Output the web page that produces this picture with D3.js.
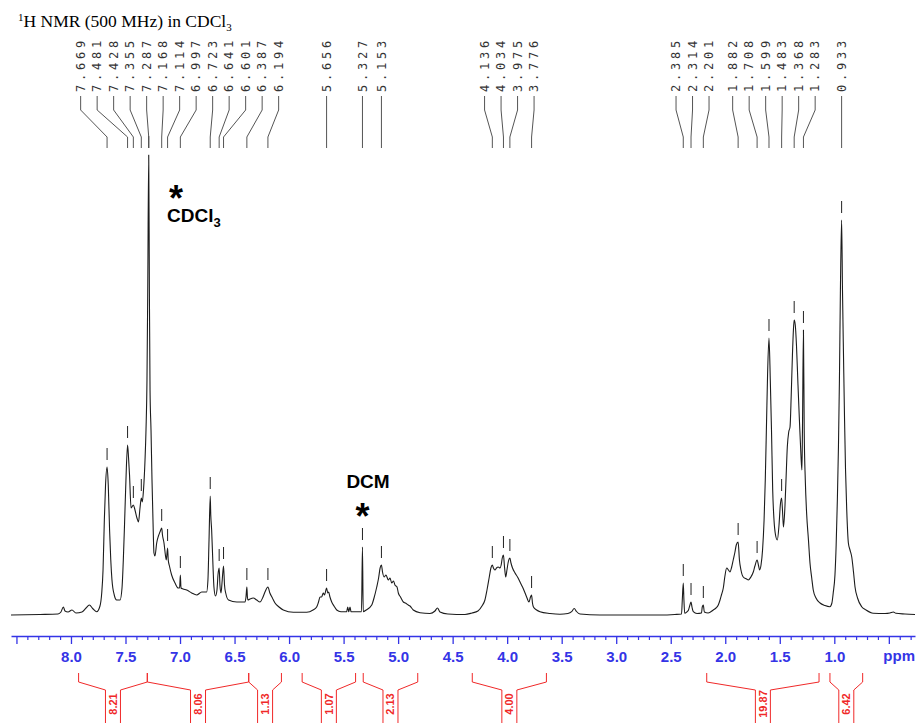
<!DOCTYPE html>
<html>
<head>
<meta charset="utf-8">
<script src="https://cdn.jsdelivr.net/npm/d3@7"></script>
<style>
  body { margin: 0; background: #fff; }
  svg { display: block; }
</style>
</head>
<body>
<div id="chart"></div>
<script>
// 1H NMR spectrum (500 MHz, CDCl3): trace, picked peaks and integrals

// Spectrum trace: [chemical shift (ppm), intensity (a.u.)]
const spectrum = [
  [8.550, 0], [8.284, 0.5], [8.119, 1], [8.092, 3], [8.070, 8], [8.055, 4], [8.027, 3],
  [7.991, 5], [7.954, 2], [7.899, 3], [7.862, 7], [7.832, 10], [7.797, 6], [7.764, 3.3],
  [7.734, 9], [7.718, 22], [7.706, 45], [7.694, 95], [7.683, 130], [7.669, 148],
  [7.658, 130], [7.646, 85], [7.635, 55], [7.624, 35], [7.603, 20], [7.581, 15], [7.550, 15],
  [7.532, 27], [7.520, 55], [7.509, 90], [7.498, 128], [7.481, 170], [7.472, 157],
  [7.463, 140], [7.449, 107], [7.428, 110], [7.413, 105], [7.395, 97], [7.381, 93],
  [7.367, 107], [7.355, 117], [7.346, 113], [7.335, 125], [7.321, 155], [7.312, 185],
  [7.303, 235], [7.296, 325], [7.287, 460], [7.281, 325], [7.275, 225], [7.266, 185],
  [7.257, 135], [7.248, 95], [7.239, 62], [7.230, 59], [7.214, 72], [7.198, 79],
  [7.184, 83], [7.168, 87], [7.161, 80], [7.147, 72], [7.133, 59], [7.126, 55],
  [7.114, 67], [7.108, 55], [7.097, 49], [7.077, 40], [7.046, 32], [7.016, 27],
  [7.004, 27], [6.997, 40], [6.991, 27], [6.972, 26], [6.939, 25], [6.893, 22],
  [6.847, 20], [6.801, 23], [6.756, 23], [6.744, 35], [6.734, 75], [6.723, 119],
  [6.718, 100], [6.710, 85], [6.698, 50], [6.689, 28], [6.675, 19], [6.661, 25],
  [6.652, 40], [6.641, 47], [6.634, 30], [6.624, 22], [6.613, 35], [6.601, 49],
  [6.592, 30], [6.581, 22], [6.555, 15], [6.480, 13], [6.404, 13], [6.395, 18],
  [6.387, 28], [6.382, 18], [6.377, 15], [6.359, 16], [6.328, 17], [6.297, 15],
  [6.267, 13], [6.239, 18], [6.221, 23], [6.194, 28], [6.176, 22], [6.153, 17],
  [6.129, 12], [6.092, 8], [6.053, 5], [5.961, 2.7], [5.838, 2.7], [5.780, 5],
  [5.747, 8], [5.730, 13], [5.716, 18], [5.702, 18], [5.686, 22], [5.675, 20],
  [5.656, 27], [5.645, 22], [5.637, 23], [5.625, 18], [5.609, 13], [5.588, 9],
  [5.563, 5], [5.524, 3.3], [5.472, 3.3], [5.462, 8], [5.453, 3.3], [5.441, 8],
  [5.432, 3.3], [5.336, 3.3], [5.327, 68], [5.320, 3.3], [5.293, 5], [5.242, 10],
  [5.221, 17], [5.196, 28], [5.179, 37], [5.165, 47], [5.153, 50], [5.143, 43],
  [5.129, 38], [5.111, 40], [5.090, 35], [5.074, 37], [5.059, 32], [5.042, 34],
  [5.029, 30], [5.010, 28], [4.998, 22], [4.978, 18], [4.952, 13], [4.932, 12],
  [4.907, 10], [4.891, 9], [4.861, 5], [4.799, 2.3], [4.708, 1.5], [4.662, 4],
  [4.639, 7], [4.616, 3], [4.543, 1], [4.387, 0.5], [4.323, 2], [4.268, 4],
  [4.231, 9], [4.204, 15], [4.185, 25], [4.164, 38], [4.149, 47], [4.136, 50],
  [4.126, 47], [4.112, 45], [4.098, 47], [4.082, 48], [4.066, 47], [4.055, 50],
  [4.045, 57], [4.034, 60], [4.025, 49], [4.013, 38], [4.002, 45], [3.990, 53],
  [3.975, 57], [3.965, 52], [3.951, 47], [3.928, 42], [3.905, 38], [3.882, 33],
  [3.859, 28], [3.836, 22], [3.818, 17], [3.800, 13], [3.786, 18], [3.776, 20],
  [3.768, 12], [3.759, 8], [3.730, 5], [3.699, 3.3], [3.607, 1.5], [3.516, 0.7],
  [3.443, 1.5], [3.409, 3.3], [3.385, 6.5], [3.364, 3.5], [3.332, 1], [3.149, 0],
  [2.874, 0], [2.599, 0], [2.462, 0.5], [2.401, 1], [2.394, 15], [2.385, 32],
  [2.379, 15], [2.372, 1.7], [2.353, 3], [2.337, 5], [2.324, 10], [2.314, 13],
  [2.305, 8], [2.293, 3.3], [2.259, 1.5], [2.218, 2], [2.211, 8], [2.201, 10],
  [2.192, 3], [2.157, 2], [2.110, 5], [2.085, 7], [2.064, 10], [2.048, 15],
  [2.035, 20], [2.018, 27], [2.003, 39], [1.987, 47], [1.971, 45], [1.957, 43],
  [1.941, 48], [1.927, 55], [1.911, 63], [1.899, 70], [1.882, 73], [1.870, 55],
  [1.856, 45], [1.835, 38], [1.804, 36], [1.789, 35], [1.765, 38], [1.743, 43],
  [1.728, 49], [1.708, 55], [1.694, 49], [1.685, 45], [1.672, 50], [1.658, 65],
  [1.644, 95], [1.633, 135], [1.621, 195], [1.612, 240], [1.599, 277], [1.587, 235],
  [1.576, 185], [1.565, 125], [1.553, 95], [1.539, 80], [1.523, 75], [1.507, 90],
  [1.495, 110], [1.483, 117], [1.473, 100], [1.466, 88], [1.452, 110], [1.443, 135],
  [1.431, 168], [1.418, 183], [1.406, 188], [1.395, 220], [1.384, 260], [1.375, 285],
  [1.368, 295], [1.358, 290], [1.347, 270], [1.333, 230], [1.320, 195], [1.306, 160],
  [1.297, 145], [1.292, 185], [1.283, 285], [1.276, 185], [1.266, 135], [1.254, 102],
  [1.237, 75], [1.223, 52], [1.207, 37], [1.193, 25], [1.168, 17], [1.131, 12],
  [1.086, 9.5], [1.040, 8.3], [1.022, 12], [1.010, 22], [0.994, 40], [0.983, 70],
  [0.972, 115], [0.962, 168], [0.953, 235], [0.944, 325], [0.933, 395], [0.925, 325],
  [0.915, 255], [0.906, 195], [0.897, 145], [0.886, 105], [0.871, 72], [0.856, 65],
  [0.840, 58], [0.824, 43], [0.810, 28], [0.787, 17], [0.749, 8.3], [0.710, 5],
  [0.643, 1.7], [0.535, 1.5], [0.490, 2], [0.459, 3], [0.435, 1.7], [0.352, 1],
  [0.260, 0.5]
];

// Picked peaks (ppm)
const peakShifts = [
  7.669, 7.481, 7.428, 7.355, 7.287, 7.168, 7.114, 6.997, 6.723, 6.641, 6.601, 6.387, 6.194,
  5.656, 5.327, 5.153,
  4.136, 4.034, 3.975, 3.776,
  2.385, 2.314, 2.201, 1.882, 1.708, 1.599, 1.483, 1.368, 1.283, 0.933
];

// Integral regions (ppm) and values
const integralFrom = [7.93, 7.30, 6.37, 5.88, 5.32, 4.32, 2.17, 1.04];
const integralTo   = [7.30, 6.37, 6.07, 5.39, 4.82, 3.64, 1.14, 0.74];
const integralValues = ["8.21", "8.06", "1.13", "1.07", "2.13", "4.00", "19.87", "6.42"];

// Axis ticks
const majorTicks = [8.5, 8.0, 7.5, 7.0, 6.5, 6.0, 5.5, 5.0, 4.5, 4.0, 3.5, 3.0, 2.5, 2.0, 1.5, 1.0, 0.5];
const majorTickLabels = ["", "8.0", "7.5", "7.0", "6.5", "6.0", "5.5", "5.0", "4.5", "4.0", "3.5", "3.0", "2.5", "2.0", "1.5", "1.0", ""];

const W = 918, H = 723;
const svg = d3.select("#chart").append("svg")
  .attr("width", W).attr("height", H)
  .attr("viewBox", `0 0 ${W} ${H}`);

const x = d3.scaleLinear().domain([8.55, 0.26]).range([11, 915]);
const y = d3.scaleLinear().domain([0, 460]).range([615, 155]);

const SANS = "'Liberation Sans', Arial, Helvetica, sans-serif";
const BLUE = "#3434e6";
const RED = "#f02828";

// Title
const title = svg.append("text")
  .attr("x", 18).attr("y", 27)
  .attr("font-family", "'Liberation Serif', 'Times New Roman', serif")
  .attr("font-size", 17.5).attr("fill", "#000");
title.append("tspan").attr("font-size", 11).attr("dy", -6).text("1");
title.append("tspan").attr("dy", 6).text("H NMR (500 MHz) in CDCl");
title.append("tspan").attr("font-size", 11).attr("dy", 4).text("3");

// Spectrum trace
const line = d3.line()
  .x(d => x(d[0]))
  .y(d => y(d[1]))
  .curve(d3.curveMonotoneX);

svg.append("path")
  .datum(spectrum)
  .attr("d", line)
  .attr("fill", "none")
  .attr("stroke", "#1c1c1c")
  .attr("stroke-width", 1.1)
  .attr("stroke-linejoin", "round");

// Peak tick marks above each picked peak
const peakHeight = p => d3.max(spectrum.filter(d => Math.abs(d[0] - p) < 0.004), d => d[1]);
svg.append("g").selectAll("line")
  .data(peakShifts)
  .join("line")
  .attr("x1", d => x(d)).attr("x2", d => x(d))
  .attr("y1", d => y(peakHeight(d)) - 19)
  .attr("y2", d => y(peakHeight(d)) - 7)
  .attr("stroke", "#222").attr("stroke-width", 1);

// Label layout: spread labels to a minimum spacing, clusters centred on their peaks
function layoutLabels(xs, gap) {
  let clusters = xs.map((v, i) => ({ idx: [i], sum: v }));
  const span = c => {
    const n = c.idx.length, m = c.sum / n;
    return [m - (n - 1) / 2 * gap, m + (n - 1) / 2 * gap];
  };
  let changed = true;
  while (changed) {
    changed = false;
    for (let i = 0; i < clusters.length - 1; i++) {
      const a = span(clusters[i]), b = span(clusters[i + 1]);
      if (b[0] - a[1] < gap) {
        clusters[i] = { idx: clusters[i].idx.concat(clusters[i + 1].idx), sum: clusters[i].sum + clusters[i + 1].sum };
        clusters.splice(i + 1, 1);
        changed = true;
        break;
      }
    }
  }
  const out = new Array(xs.length);
  clusters.forEach(c => {
    const s = span(c)[0];
    c.idx.forEach((k, j) => { out[k] = s + j * gap; });
  });
  return out;
}

const peakX = peakShifts.map(p => x(p));
const labelX = layoutLabels(peakX, 16.5);

const labelG = svg.append("g");
labelG.selectAll("path")
  .data(peakShifts)
  .join("path")
  .attr("d", (d, i) => `M${labelX[i]},96 L${labelX[i]},110 L${peakX[i]},137 L${peakX[i]},148`)
  .attr("fill", "none")
  .attr("stroke", "#555")
  .attr("stroke-width", 1);

labelG.selectAll("text")
  .data(peakShifts)
  .join("text")
  .attr("transform", (d, i) => `translate(${labelX[i]},92) rotate(-90)`)
  .attr("dy", "0.36em")
  .attr("font-family", "'DejaVu Sans Mono', monospace")
  .attr("font-size", 12)
  .attr("letter-spacing", 3.8)
  .attr("fill", "#333")
  .text(d => d.toFixed(3));

// Solvent annotations
const notes = svg.append("g").attr("font-family", SANS).attr("font-weight", "bold").attr("fill", "#000");
// residual CHCl3: star above the solvent name, one text block
const cdcl = notes.append("text").attr("font-size", 19);
cdcl.append("tspan").attr("x", x(7.037)).attr("y", y(404)).attr("text-anchor", "middle")
  .attr("font-size", 36).text("*");
cdcl.append("tspan").attr("x", x(7.119)).attr("y", y(393)).text("CDCl");
cdcl.append("tspan").attr("font-size", 13).attr("dy", 5).text("3");
// dichloromethane: name above the star
const dcm = notes.append("text").attr("font-size", 19).attr("text-anchor", "middle");
dcm.append("tspan").attr("x", x(5.276)).attr("y", y(127)).text("DCM");
dcm.append("tspan").attr("x", x(5.327)).attr("y", y(86)).attr("font-size", 36).text("*");

// ppm axis
const axisY = 636;
const minorTicks = d3.range(3, 86).map(i => i / 10).filter(v => Math.abs(v * 2 - Math.round(v * 2)) > 1e-6);
const minorG = svg.append("g").attr("transform", `translate(0,${axisY})`)
  .call(d3.axisBottom(x).tickValues(minorTicks).tickSize(4).tickSizeOuter(0).tickFormat(""));
minorG.select(".domain").remove();
minorG.selectAll("line").attr("stroke", BLUE).attr("stroke-width", 1.2);

const majorG = svg.append("g").attr("transform", `translate(0,${axisY})`)
  .call(d3.axisBottom(x).tickValues(majorTicks).tickSize(8).tickSizeOuter(0).tickPadding(7)
    .tickFormat((d, i) => majorTickLabels[i]));
majorG.select(".domain").attr("stroke", BLUE).attr("stroke-width", 1.4);
majorG.selectAll("line").attr("stroke", BLUE).attr("stroke-width", 1.3);
majorG.selectAll("text")
  .attr("fill", BLUE).attr("font-family", SANS).attr("font-weight", "bold").attr("font-size", 15);

svg.append("text")
  .attr("x", x(0.405)).attr("y", 661)
  .attr("text-anchor", "middle")
  .attr("fill", BLUE).attr("font-family", SANS).attr("font-weight", "bold").attr("font-size", 15)
  .text("ppm");

// Integral brackets
const intG = svg.append("g");
integralValues.forEach((v, i) => {
  const x1 = x(integralFrom[i]), x2 = x(integralTo[i]), c = (x1 + x2) / 2;
  intG.append("path")
    .attr("d", `M${x1},673 L${x1},682 L${c - 7.5},690 L${c - 7.5},724 M${x2},673 L${x2},682 L${c + 7.5},690 L${c + 7.5},724`)
    .attr("fill", "none").attr("stroke", RED).attr("stroke-width", 1);
  intG.append("text")
    .attr("transform", `translate(${c},704) rotate(-90)`)
    .attr("text-anchor", "middle").attr("dy", "0.36em")
    .attr("font-family", SANS).attr("font-weight", "bold").attr("font-size", 11).attr("fill", RED)
    .text(v);
});
</script>
</body>
</html>
